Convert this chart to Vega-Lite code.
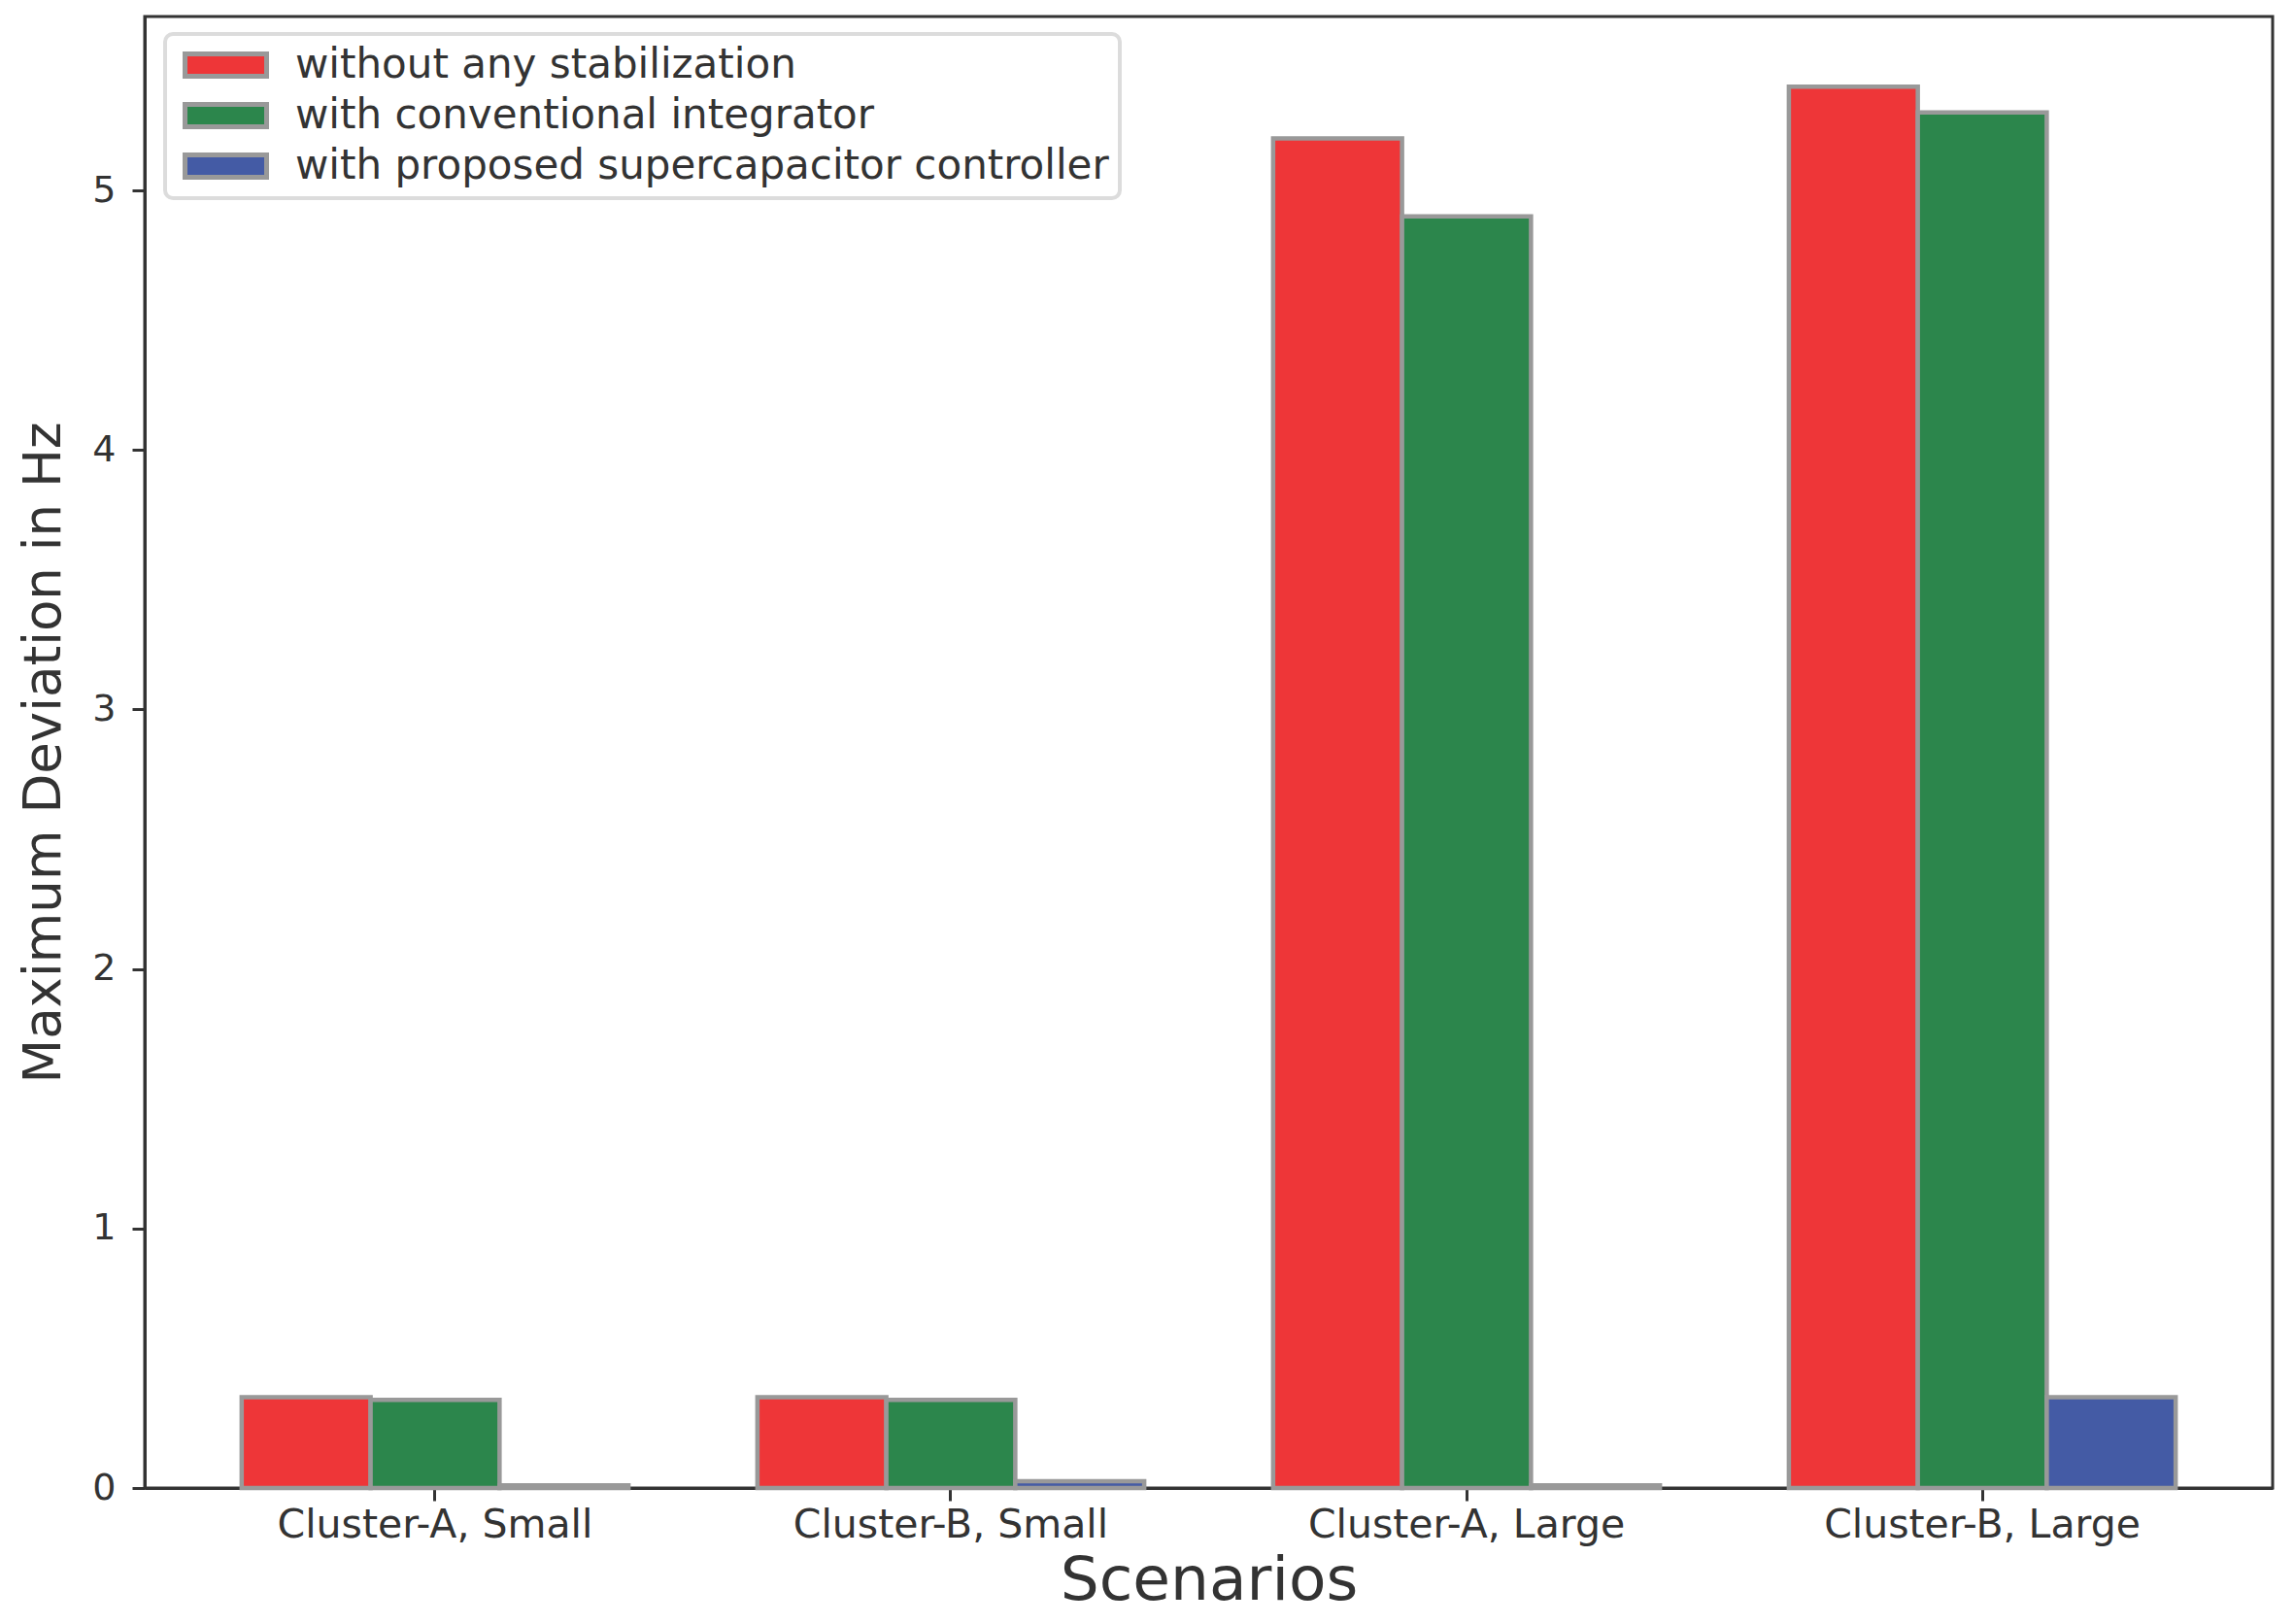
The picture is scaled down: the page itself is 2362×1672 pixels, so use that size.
{
  "$schema": "https://vega.github.io/schema/vega-lite/v6.json",
  "width": 2191,
  "height": 1515,
  "autosize": {"type": "none"},
  "padding": {"left": 149, "top": 17, "right": 22, "bottom": 140},
  "background": "white",
  "config": {
    "font": "DejaVu Sans",
    "view": {"stroke": "#333333", "strokeWidth": 3},
    "axis": {
      "domainColor": "#333333",
      "domainWidth": 3,
      "tickColor": "#333333",
      "tickWidth": 3,
      "tickSize": 13,
      "labelColor": "#333333",
      "titleColor": "#333333",
      "grid": false,
      "labelFont": "DejaVu Sans",
      "titleFont": "DejaVu Sans",
      "titleFontWeight": "normal",
      "labelLimit": 1000
    },
    "legend": {
      "labelFont": "DejaVu Sans",
      "labelColor": "#333333",
      "strokeWidth": 4
    }
  },
  "data": {
    "values": [
      {"scenario": "Cluster-A, Small", "controller": "without any stabilization", "deviation": 0.35},
      {"scenario": "Cluster-A, Small", "controller": "with conventional integrator", "deviation": 0.34},
      {"scenario": "Cluster-A, Small", "controller": "with proposed supercapacitor controller", "deviation": 0.01},
      {"scenario": "Cluster-B, Small", "controller": "without any stabilization", "deviation": 0.35},
      {"scenario": "Cluster-B, Small", "controller": "with conventional integrator", "deviation": 0.34},
      {"scenario": "Cluster-B, Small", "controller": "with proposed supercapacitor controller", "deviation": 0.026},
      {"scenario": "Cluster-A, Large", "controller": "without any stabilization", "deviation": 5.2},
      {"scenario": "Cluster-A, Large", "controller": "with conventional integrator", "deviation": 4.9},
      {"scenario": "Cluster-A, Large", "controller": "with proposed supercapacitor controller", "deviation": 0.01},
      {"scenario": "Cluster-B, Large", "controller": "without any stabilization", "deviation": 5.4},
      {"scenario": "Cluster-B, Large", "controller": "with conventional integrator", "deviation": 5.3},
      {"scenario": "Cluster-B, Large", "controller": "with proposed supercapacitor controller", "deviation": 0.35}
    ]
  },
  "mark": {"type": "bar", "stroke": "#999999", "strokeWidth": 4.5},
  "encoding": {
    "x": {
      "field": "scenario",
      "type": "nominal",
      "sort": ["Cluster-A, Small", "Cluster-B, Small", "Cluster-A, Large", "Cluster-B, Large"],
      "scale": {"paddingInner": 0, "paddingOuter": 0.063},
      "axis": {
        "title": "Scenarios",
        "titleFontSize": 63,
        "titlePadding": 6,
        "labelFontSize": 41,
        "labelAngle": 0,
        "labelPadding": 5,
        "labelBaseline": "top"
      }
    },
    "xOffset": {
      "field": "controller",
      "type": "nominal",
      "sort": ["without any stabilization", "with conventional integrator", "with proposed supercapacitor controller"],
      "scale": {"paddingInner": 0, "paddingOuter": 0.5}
    },
    "y": {
      "field": "deviation",
      "type": "quantitative",
      "scale": {"domain": [0, 5.67], "nice": false},
      "axis": {
        "title": "Maximum Deviation in Hz",
        "titleFontSize": 53,
        "titlePadding": 22,
        "labelFontSize": 38,
        "labelPadding": 17,
        "values": [0, 1, 2, 3, 4, 5],
        "format": "d"
      }
    },
    "color": {
      "field": "controller",
      "type": "nominal",
      "sort": ["without any stabilization", "with conventional integrator", "with proposed supercapacitor controller"],
      "scale": {
        "domain": ["without any stabilization", "with conventional integrator", "with proposed supercapacitor controller"],
        "range": ["#ee3638", "#2c864c", "#445ba5"]
      },
      "legend": {
        "title": null,
        "orient": "none",
        "legendX": 21,
        "legendY": 18,
        "symbolType": "M-1,-1H6.304V1H-1Z",
        "symbolSize": 529,
        "symbolStrokeColor": "#999999",
        "symbolStrokeWidth": 5,
        "symbolOpacity": 1,
        "labelFontSize": 42,
        "labelOffset": 81,
        "rowPadding": 8,
        "padding": 11,
        "fillColor": "white",
        "strokeColor": "#dcdcdc",
        "cornerRadius": 8,
        "labelLimit": 2000
      }
    }
  }
}
